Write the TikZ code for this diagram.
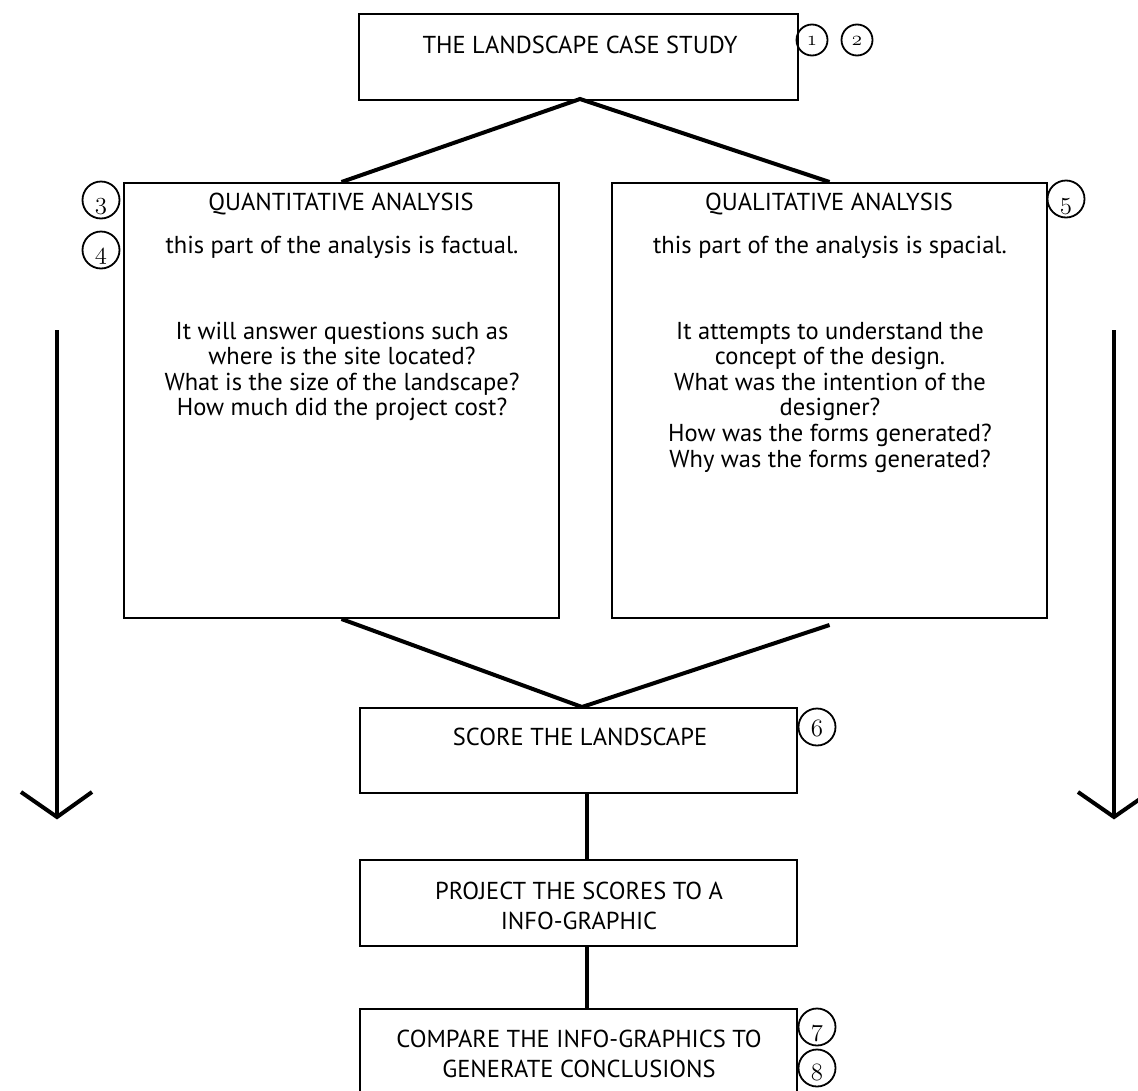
\documentclass[tikz,border=0pt]{standalone}
\usepackage{fontspec}
\setmainfont{PT Sans}
\usetikzlibrary{calc}
\begin{document}
\begin{tikzpicture}[x=1pt,y=-1pt,
  box/.style={draw, line width=2pt, rectangle, inner sep=0pt, anchor=north west},
  conn/.style={line width=4pt},
  num/.style={draw, circle, line width=1.8pt, minimum size=37pt, inner sep=0pt,
    text height=19pt, text depth=0pt,
    font=\fontsize{25}{25}\usefont{OML}{lmm}{b}{it}},
  smallnum/.style={num, minimum size=31pt, text height=10pt,
    font=\fontsize{22}{22}\usefont{OML}{lmm}{b}{it}},
  lbl/.style={font=\fontsize{24.5}{28}\selectfont, inner sep=0pt, anchor=base}]
\path[use as bounding box] (0,0) rectangle (1138,1090);

% boxes
\node[box, minimum width=439pt, minimum height=86pt] (b1) at (358,13) {};
\node[box, minimum width=435pt, minimum height=435pt] (b2) at (123,182) {};
\node[box, minimum width=435pt, minimum height=435pt] (b3) at (611,182) {};
\node[box, minimum width=437pt, minimum height=85pt] (b4) at (359,707) {};
\node[box, minimum width=437pt, minimum height=86pt] (b5) at (359,859) {};
\node[box, minimum width=437pt, minimum height=120pt] (b6) at (359,1008) {};

% texts
\node[lbl] (t1) at (580,53) {THE LANDSCAPE CASE STUDY};
\node[lbl] (t2a) at (341,210) {QUANTITATIVE ANALYSIS};
\node[lbl] (t2b) at (342,253) {this part of the analysis is factual.};
\node[lbl] (t2c) at (342,339) {It will answer questions such as};
\node[lbl] (t2d) at (342,364.5) {where is the site located?};
\node[lbl] (t2e) at (342,390) {What is the size of the landscape?};
\node[lbl] (t2f) at (342,415) {How much did the project cost?};
\node[lbl] (t3a) at (829,210) {QUALITATIVE ANALYSIS};
\node[lbl] (t3b) at (830,253) {this part of the analysis is spacial.};
\node[lbl] (t3c) at (830,339) {It attempts to understand the};
\node[lbl] (t3d) at (830,364.5) {concept of the design.};
\node[lbl] (t3e) at (830,390) {What was the intention of the};
\node[lbl] (t3f) at (830,415) {designer?};
\node[lbl] (t3g) at (830,441) {How was the forms generated?};
\node[lbl] (t3h) at (830,467) {Why was the forms generated?};
\node[lbl] (t4) at (580,745.5) {SCORE THE LANDSCAPE};
\node[lbl] (t5a) at (579,899) {PROJECT THE SCORES TO A};
\node[lbl] (t5b) at (579,929) {INFO-GRAPHIC};
\node[lbl] (t6a) at (579,1047) {COMPARE THE INFO-GRAPHICS TO};
\node[lbl] (t6b) at (579,1077) {GENERATE CONCLUSIONS};

% numbered circles
\node[smallnum] (c1) at (812,40) {1};
\node[smallnum] (c2) at (857,40) {2};
\node[num] (c3) at (101,200) {3};
\node[num] (c4) at (101,250) {4};
\node[num, text height=21pt] (c5) at (1066,199) {5};
\node[num] (c6) at (817,727) {6};
\node[num] (c7) at (817,1027) {7};
\node[num, text height=25pt] (c8) at (817,1068) {8};

% connectors
\coordinate (apex1) at (580,99);
\draw[conn] (b2.north) -- (apex1) -- (b3.north);
\coordinate (apex2) at (582,707);
\draw[conn] (b2.south) -- (apex2);
\draw[conn] ([yshift=-6pt]b3.south) -- (apex2);
\draw[conn] ([xshift=8pt]b4.south) -- ([xshift=8pt]b5.north);
\draw[conn] ([xshift=8pt]b5.south) -- ([xshift=8pt]b6.north);

% side arrows
\coordinate (la1) at (57,330);
\coordinate (la2) at (57,817);
\draw[conn] (la1) -- (la2);
\draw[conn] ($(la2)+(-36,-25)$) -- (la2) -- ($(la2)+(35,-25)$);
\coordinate (ra1) at (1114,330);
\coordinate (ra2) at (1114,817);
\draw[conn] (ra1) -- (ra2);
\draw[conn] ($(ra2)+(-36,-25)$) -- (ra2) -- ($(ra2)+(36,-25)$);
\end{tikzpicture}
\end{document}
